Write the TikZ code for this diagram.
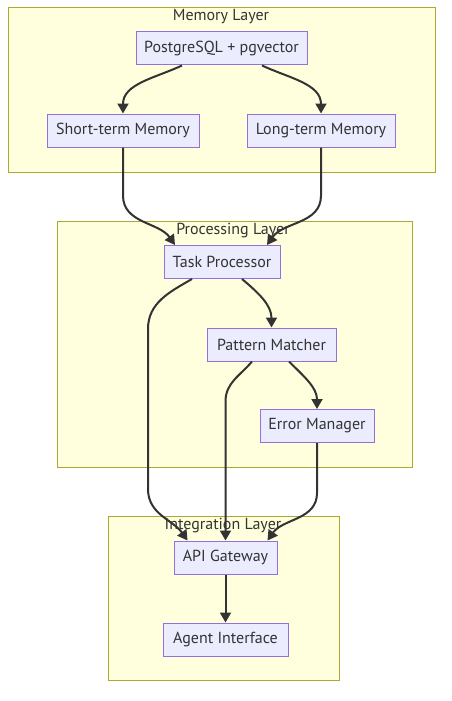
\documentclass[tikz,border=0pt]{standalone}
\usepackage{fontspec}
\setmainfont{PT Sans}
\usetikzlibrary{arrows.meta}
\definecolor{clusterfill}{HTML}{FFFFDE}
\definecolor{clusterline}{HTML}{AAAA33}
\definecolor{boxfill}{HTML}{ECECFF}
\definecolor{boxline}{HTML}{9370DB}
\definecolor{inkgray}{HTML}{333333}

\begin{document}
\begin{tikzpicture}[x=1pt, y=1pt,
  every node/.style = {text=inkgray, font=\fontsize{16}{19}\selectfont},
  layer/.style = {draw=clusterline, fill=clusterfill, line width=1pt},
  box/.style = {draw=boxline, fill=boxfill, line width=1pt,
                minimum height=33pt, inner xsep=6pt},
  flow/.style = {draw=inkgray, line width=2pt,
                 -{Triangle[length=10pt, width=11pt]}},
  ]
  \useasboundingbox (0,0) rectangle (451,-701);
  \fill[white] (0,0) rectangle (451,-701);
  \draw[layer] (8,-8) rectangle (435,-172);
  \draw[layer] (57,-221) rectangle (412,-467);
  \draw[layer] (108,-516) rectangle (339,-680);
  \node (tMem)  at (221,-17)  {Memory Layer};
  \node (tProc) at (233,-231) {Processing Layer};
  \node (tInt)  at (223,-526) {Integration Layer};

  \node [box, minimum width=171pt] (n1Pg)      at (221.5,-48.5) {PostgreSQL + pgvector};
  \node [box, minimum width=152pt] (n2Short)   at (123,-130.5)  {Short-term Memory};
  \node [box, minimum width=148pt] (n3Long)    at (321,-130.5)  {Long-term Memory};
  \node [box, minimum width=116pt] (n4Task)    at (222,-262)    {Task Processor};
  \node [box, minimum width=129pt] (n5Pattern) at (271.5,-344.5) {Pattern Matcher};
  \node [box, minimum width=114pt] (n6Error)   at (317,-426)    {Error Manager};
  \node [box, minimum width=103pt] (n7Api)     at (225.5,-557.5) {API Gateway};
  \node [box, minimum width=125pt] (n8Agent)   at (225.5,-639.5) {Agent Interface};

  \draw [flow] ([xshift=-39.5pt]n1Pg.south) to[out=-155, in=90] (n2Short.north);
  \draw [flow] ([xshift=40.5pt]n1Pg.south) to[out=-25, in=90] (n3Long.north);
  \draw [flow] (n2Short.south) -- ++(0,-48) to[out=-90, in=125] ([xshift=-47pt]n4Task.north);
  \draw [flow] (n3Long.south) -- ++(0,-48) to[out=-90, in=55] ([xshift=45pt]n4Task.north);
  \draw [flow] ([xshift=-30pt]n4Task.south) to[out=-150, in=90] ++(-44,-50)
               -- ++(0,-160) to[out=-90, in=125] ([xshift=-38pt]n7Api.north);
  \draw [flow] ([xshift=20pt]n4Task.south) to[out=-40, in=90] (n5Pattern.north);
  \draw [flow] ([xshift=-19.5pt]n5Pattern.south) to[out=-130, in=90] ++(-26.5,-40)
               -- (n7Api.north);
  \draw [flow] ([xshift=17.5pt]n5Pattern.south) to[out=-45, in=90] (n6Error.north);
  \draw [flow] (n6Error.south) -- ++(0,-50) to[out=-90, in=55] ([xshift=42pt]n7Api.north);
  \draw [flow] (n7Api) -- (n8Agent);
\end{tikzpicture}
\end{document}
